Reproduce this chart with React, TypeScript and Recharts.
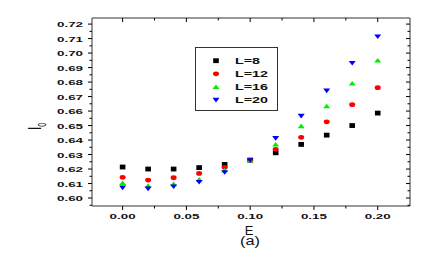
import React from "react";
import {
  Legend,
  ReferenceArea,
  Scatter,
  ScatterChart,
  XAxis,
  YAxis,
} from "recharts";

// field E and the four system sizes
const fieldE = [0, 0.02, 0.04, 0.06, 0.08, 0.1, 0.12, 0.14, 0.16, 0.18, 0.2];
const seriesL8 = [0.6214, 0.62, 0.62, 0.621, 0.6232, 0.6262, 0.6312, 0.637, 0.6434, 0.65, 0.6586];
const seriesL12 = [0.6143, 0.6124, 0.614, 0.617, 0.6212, 0.626, 0.6336, 0.6419, 0.6526, 0.6644, 0.6761];
const seriesL16 = [0.6105, 0.6085, 0.6097, 0.6129, 0.6193, 0.626, 0.637, 0.6497, 0.6634, 0.6791, 0.695];
const seriesL20 = [0.6071, 0.6064, 0.6078, 0.611, 0.6177, 0.626, 0.6412, 0.6566, 0.674, 0.6931, 0.7113];

const xMajorTicks = [0, 0.05, 0.1, 0.15, 0.2];
const xMinorTicks = [0.025, 0.075, 0.125, 0.175];
const yMajorTicks = [0.6, 0.61, 0.62, 0.63, 0.64, 0.65, 0.66, 0.67, 0.68, 0.69, 0.7, 0.71, 0.72];
const yMinorTicks = [0.595, 0.605, 0.615, 0.625, 0.635, 0.645, 0.655, 0.665, 0.675, 0.685, 0.695, 0.705, 0.715];

const legendLabels = ["L=8", "L=12", "L=16", "L=20"];

const X_DOMAIN: [number, number] = [-0.024, 0.2253];
const Y_DOMAIN: [number, number] = [0.5945, 0.7242];

const W = 436;
const H = 267;
const PLOT_TOP = 18;
const PLOT_RIGHT = 410;
const FONT = "'Liberation Sans', Arial, sans-serif";

const isIn = (list: number[], v: number) => list.some((t) => Math.abs(t - v) < 1e-6);

function Square({ cx, cy }: any) {
  return <rect x={cx - 2.8} y={cy - 2.4} width={5.6} height={4.8} fill="#000" />;
}
function Dot({ cx, cy }: any) {
  return <ellipse cx={cx} cy={cy} rx={3} ry={2.4} fill="#ff0000" />;
}
function Up({ cx, cy }: any) {
  return <polygon points={`${cx - 3.5},${cy + 2.2} ${cx + 3.5},${cy + 2.2} ${cx},${cy - 2.4}`} fill="#00ee00" />;
}
function Down({ cx, cy }: any) {
  return <polygon points={`${cx - 3.5},${cy - 2.2} ${cx + 3.5},${cy - 2.2} ${cx},${cy + 2.4}`} fill="#0000ff" />;
}

const shapes = [Square, Dot, Up, Down];

function XTick({ x, y, payload }: any) {
  const major = isIn(xMajorTicks, payload.value);
  const len = major ? 4 : 2.5;
  return (
    <g>
      <line x1={x} x2={x} y1={y} y2={y + len} stroke="#000" />
      <line x1={x} x2={x} y1={PLOT_TOP} y2={PLOT_TOP + len} stroke="#000" />
      {major && (
        <text
          x={x}
          y={y + 13}
          textAnchor="middle"
          fontSize={8}
          fontWeight="bold"
          fontFamily={FONT}
          fill="#111"
          textLength={26}
          lengthAdjust="spacingAndGlyphs"
        >
          {payload.value.toFixed(2)}
        </text>
      )}
    </g>
  );
}

function YTick({ x, y, payload }: any) {
  const major = isIn(yMajorTicks, payload.value);
  const len = major ? 4 : 2.5;
  return (
    <g>
      <line x1={x - len} x2={x} y1={y} y2={y} stroke="#000" />
      <line x1={PLOT_RIGHT - len} x2={PLOT_RIGHT} y1={y} y2={y} stroke="#000" />
      {major && (
        <text
          x={x - 35}
          y={y + 3}
          fontSize={8}
          fontWeight="bold"
          fontFamily={FONT}
          fill="#111"
          textLength={26}
          lengthAdjust="spacingAndGlyphs"
        >
          {payload.value.toFixed(2)}
        </text>
      )}
    </g>
  );
}

function LegendBox() {
  return (
    <svg width={83} height={64}>
      <rect x={0.5} y={0.5} width={82} height={63} fill="#fff" stroke="#333" />
      {legendLabels.map((label, i) => {
        const Shape = shapes[i];
        const cy = 13.7 + i * 13.1;
        return (
          <g key={label}>
            <Shape cx={21} cy={cy} />
            <text
              x={40}
              y={cy + 3}
              fontSize={8.5}
              fontFamily={FONT}
              fontWeight="bold"
              fill="#111"
              textLength={label.length === 3 ? 25 : 33}
              lengthAdjust="spacingAndGlyphs"
            >
              {label}
            </text>
          </g>
        );
      })}
    </svg>
  );
}

export default function App() {
  const series = [seriesL8, seriesL12, seriesL16, seriesL20].map((vals) =>
    fieldE.map((e, i) => ({ e, v: vals[i] }))
  );

  return (
    <div style={{ position: "absolute", left: 0, top: 0, width: W, height: H, background: "#fff" }}>
      <ScatterChart width={W} height={H} margin={{ top: PLOT_TOP, right: W - PLOT_RIGHT, left: 32, bottom: 31 }}>
        <XAxis
          type="number"
          dataKey="e"
          domain={X_DOMAIN}
          allowDataOverflow
          ticks={[...xMajorTicks, ...xMinorTicks]}
          interval={0}
          tickSize={0}
          tickMargin={0}
          height={30}
          tickLine={false}
          axisLine={false}
          tick={<XTick />}
        />
        <YAxis
          type="number"
          dataKey="v"
          domain={Y_DOMAIN}
          allowDataOverflow
          ticks={[...yMajorTicks, ...yMinorTicks]}
          interval={0}
          tickSize={0}
          tickMargin={0}
          width={60}
          tickLine={false}
          axisLine={false}
          tick={<YTick />}
        />
        <ReferenceArea
          x1={X_DOMAIN[0]}
          x2={X_DOMAIN[1]}
          y1={Y_DOMAIN[0]}
          y2={Y_DOMAIN[1]}
          fill="none"
          stroke="#333"
          strokeWidth={1}
        />
        {series.map((data, i) => (
          <Scatter
            key={legendLabels[i]}
            name={legendLabels[i]}
            data={data}
            shape={shapes[i]}
            isAnimationActive={false}
          />
        ))}
        <Legend
          layout="vertical"
          align="center"
          verticalAlign="middle"
          wrapperStyle={{ left: 195, top: 47, width: 83, height: 64 }}
          content={() => <LegendBox />}
        />
      </ScatterChart>
      <svg
        width={W}
        height={H}
        style={{ position: "absolute", left: 0, top: 0, pointerEvents: "none" }}
      >
        <text
          transform="translate(41,130) scale(1.6,1) rotate(-90)"
          fontSize={12}
          fontFamily={FONT}
          fill="#111"
        >
          I<tspan fontSize={7} dy={3}>0</tspan>
        </text>
        <text x={249} y={234.5} textAnchor="middle" fontSize={13} fontFamily={FONT} fill="#111">
          E
        </text>
        <text
          x={250}
          y={245}
          textAnchor="middle"
          fontSize={12}
          fontFamily={FONT}
          fill="#111"
          textLength={20}
          lengthAdjust="spacingAndGlyphs"
        >
          (a)
        </text>
      </svg>
    </div>
  );
}
